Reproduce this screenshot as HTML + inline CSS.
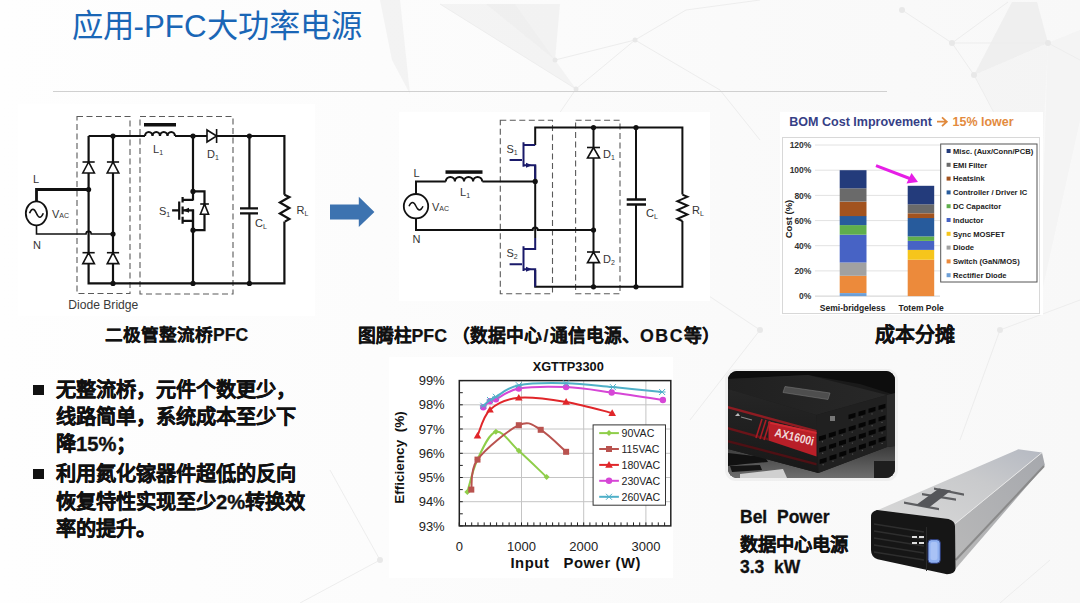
<!DOCTYPE html>
<html lang="zh-CN"><head><meta charset="utf-8">
<style>
html,body{margin:0;padding:0;}
body{width:1080px;height:603px;position:relative;overflow:hidden;background:linear-gradient(90deg,#fefefe 0%,#fcfcfc 35%,#f8f8f8 100%);font-family:"Liberation Sans",sans-serif;}
.abs{position:absolute;}
svg{position:absolute;left:0;top:0;}
.title{left:71.5px;top:0.5px;font-size:31.3px;color:#1a66b6;white-space:nowrap;letter-spacing:0px;}
.cap{font-weight:bold;font-size:17.6px;color:#111;white-space:nowrap;-webkit-text-stroke:0.2px #111;}
.bul{left:56px;top:376.7px;font-size:20.2px;font-weight:bold;color:#111;line-height:27.3px;width:400px;}
.ln{white-space:nowrap;height:27.3px;-webkit-text-stroke:0.35px #111;}
.bul .sq{position:absolute;left:-23px;width:11px;height:10px;background:#111;}
.bel{left:740px;top:505px;font-size:17px;font-weight:bold;color:#111;line-height:25px;white-space:nowrap;-webkit-text-stroke:0.3px #111;}
</style></head>
<body>
<!-- background -->
<svg id="bg" width="1080" height="603" viewBox="0 0 1080 603">
  <g fill="#ededed">
    <polygon points="1012,2 1037,2 1048,43 974,75" opacity="0.9"/>
    <polygon points="380,0 400,0 410,94 392,60" opacity="0.6"/>
    <polygon points="440,4 515,4 555,60 576,89" opacity="0.55"/>
    <polygon points="486,4 560,4 555,60" opacity="0.6"/>
    <polygon points="1048,43 1080,30 1080,120 1040,300" opacity="0.4"/>
    <polygon points="974,75 1048,43 1040,200" opacity="0.35"/>
  </g>
  <g stroke="#ededed" stroke-width="1" fill="none">
    <path d="M440,4 L576,89 L635,40 L686,10 M555,60 L635,40 M635,40 L720,90 M902,10 L952,43 L974,75 M952,43 L1048,43 M952,43 L1008,2 M974,75 L1040,200 M1048,43 L1080,60"/>
    <path d="M576,89 L500,200 M686,10 L760,0 M720,90 L760,140"/>
    <path d="M700,290 L760,330 L690,420 M1000,330 L1080,300 M1000,330 L960,440 M330,470 L380,560 L300,603 M1050,560 L1000,603"/>
  </g>
  <g fill="#e8e8e8">
    <circle cx="952" cy="43" r="3"/><circle cx="974" cy="75" r="3"/><circle cx="1048" cy="43" r="3"/>
    <circle cx="902" cy="10" r="3"/><circle cx="635" cy="40" r="2.5"/><circle cx="555" cy="60" r="2.5"/><circle cx="576" cy="89" r="2.5"/>
    <circle cx="760" cy="330" r="3"/><circle cx="1000" cy="330" r="3"/><circle cx="380" cy="560" r="3"/>
  </g>
</svg>

<div class="abs title">应用-PFC大功率电源</div>
<div class="abs" style="left:53px;top:91px;width:834px;height:1px;background:#d0d0d0;"></div>

<!-- circuit 1 -->
<svg width="1080" height="603" viewBox="0 0 1080 603">
  <rect x="18" y="104" width="297" height="212" fill="#fff"/>
  <g fill="none" stroke="#5a5a5a" stroke-width="1.1" stroke-dasharray="6,3.5">
    <rect x="77" y="116.5" width="53" height="177"/>
    <rect x="140" y="116.5" width="93" height="177.5"/>
  </g>
  <g fill="none" stroke="#111" stroke-width="2.2">
    <path d="M88.6,136 H145 M175,136 H207 M216.6,136 H284.4 V194.7 M284.4,221.6 V283.4 H88.6 V136"/>
    <path d="M113,136 V283.4"/>
    <path d="M193,136 V200.4 M193,209.8 V283.4"/>
    <path d="M249.4,136 V208.4 M249.4,213.4 V283.4"/>
    <path d="M240,208.4 H258 M240,213.4 H258"/>
    <path d="M284.4,194.7 l5,2.3 l-9.5,5.5 l9.5,5.5 l-9.5,5.5 l9.5,5.5 l-4.5,2.6"/>
    <path d="M145,136 a3.75,4 0 0 1 7.5,0 a3.75,4 0 0 1 7.5,0 a3.75,4 0 0 1 7.5,0 a3.75,4 0 0 1 7.5,0"/>
    <path d="M182.6,196.9 V202.4 M182.6,206.4 V214.3 M182.6,216.8 V223.8 M179.2,201.4 V219.8 M172.1,210.3 H179.2 M182.6,199.9 H193 M182.6,210.3 H193 V230 M182.6,220.8 H193"/>
    <path d="M193,191.4 H204.5 V230.2 H193"/>
  </g>
  <path d="M36.5,224 V234 H86 a2.6,2.6 0 0 1 5.2,0 H113" fill="none" stroke="#111" stroke-width="1.6"/>
  <rect x="144" y="123" width="32" height="3.5" fill="#111"/>
  <path d="M36.5,202 V189.5 H88.6" fill="none" stroke="#111" stroke-width="2.8"/>
  <ellipse cx="36.4" cy="213.3" rx="10.6" ry="12" fill="#fff" stroke="#111" stroke-width="1.8"/>
  <path d="M29.5,213.3 q3.4,-8 6.9,0 q3.5,8 6.9,0" fill="none" stroke="#111" stroke-width="1.6"/>
  <g fill="#fff" stroke="#111" stroke-width="1.6">
    <path d="M88.6,162 L82.8,173 H94.4 Z"/><path d="M82.5,162 H94.7"/>
    <path d="M113,162 L107.2,173 H118.8 Z"/><path d="M106.9,162 H119.1"/>
    <path d="M88.6,252.7 L82.8,263.6 H94.4 Z"/><path d="M82.5,252.7 H94.7"/>
    <path d="M113,252.7 L107.2,263.6 H118.8 Z"/><path d="M106.9,252.7 H119.1"/>
    <path d="M204.5,204 L200.4,214.3 H208.6 Z"/><path d="M200.2,204 H208.9"/>
    <path d="M216.6,136 L207,130 V142 Z"/><path d="M216.6,129 V143"/>
  </g>
  <path d="M183,210.3 l6,-2.5 v5 z" fill="#111"/>
  <g fill="#111">
    <circle cx="113" cy="136" r="2.6"/><circle cx="88.6" cy="189.5" r="2.6"/>
    <circle cx="113" cy="234" r="2.6"/><circle cx="113" cy="283.4" r="2.6"/>
    <circle cx="193" cy="136" r="2.6"/><circle cx="249.4" cy="136" r="2.6"/>
    <circle cx="193" cy="191.4" r="2.6"/><circle cx="193" cy="230.2" r="2.6"/>
    <circle cx="193" cy="283.4" r="2.6"/><circle cx="249.4" cy="283.4" r="2.6"/>
  </g>
  <g font-family="Liberation Sans" fill="#333" font-size="11">
    <text x="33" y="183">L</text>
    <text x="33" y="249">N</text>
    <text x="52" y="217.5">V<tspan font-size="7">AC</tspan></text>
    <text x="153" y="153">L<tspan font-size="7" dy="2">1</tspan></text>
    <text x="207" y="158">D<tspan font-size="7" dy="2">1</tspan></text>
    <text x="159" y="215">S<tspan font-size="7" dy="2">1</tspan></text>
    <text x="255" y="227">C<tspan font-size="7" dy="2">L</tspan></text>
    <text x="296.5" y="213.5">R<tspan font-size="7" dy="2">L</tspan></text>
    <text x="68.3" y="309" font-size="13" fill="#3a3a3a" textLength="70" lengthAdjust="spacingAndGlyphs">Diode Bridge</text>
  </g>
</svg>

<!-- arrow -->
<svg width="1080" height="603" viewBox="0 0 1080 603">
  <path d="M330,204.5 H358.8 V196.8 L374.4,212 L358.8,227 V219.5 H330 Z" fill="#3d73b0"/>
</svg>

<!-- circuit 2 -->
<svg width="1080" height="603" viewBox="0 0 1080 603">
  <rect x="399" y="112" width="311" height="189" fill="#fff"/>
  <g fill="none" stroke="#5a5a5a" stroke-width="1.1" stroke-dasharray="6,3.5">
    <rect x="500.3" y="120.3" width="52.2" height="173.5"/>
    <rect x="575.6" y="120.3" width="44.4" height="173.5"/>
  </g>
  <g fill="none" stroke="#111" stroke-width="2">
    <path d="M535.2,144.9 V127.6 H682.4 V194.6 M682.4,221 V286.8 H535.2 V270"/>
    <path d="M416,194 V181.4 H445.8 M482.4,181.4 H535.2 V165.2"/>
    <path d="M416,218.4 V230 H532.6 a2.6,2.6 0 0 1 5.2,0 H593.5"/>
    <path d="M535.2,181.4 V238"/>
    <path d="M593.5,127.6 V286.8"/>
    <path d="M636,127.6 V199.5 M636,204.5 V286.8"/>
    <path d="M682.4,194.6 l5,2.2 l-10,4.4 l10,4.4 l-10,4.4 l10,4.4 l-10,4.4 l5,2.2"/>
    <path d="M445.8,181.4 a4.55,4.5 0 0 1 9.1,0 a4.55,4.5 0 0 1 9.1,0 a4.55,4.5 0 0 1 9.1,0 a4.55,4.5 0 0 1 9.1,0"/>
  </g>
  <path d="M626.7,199.5 H646 M626.7,204.5 H646" stroke="#111" stroke-width="2.5"/>
  <rect x="445.5" y="170.3" width="37" height="3.5" fill="#111"/>
  <g fill="none" stroke="#1a1a6a" stroke-width="2">
    <path d="M535.2,144.9 H523.5 M523.5,142.2 V166.8 M509.6,160.1 H522 M523.5,165.2 H535.2 V181"/>
    <path d="M535.2,238 V249 H523.5 M523.5,246.3 V270.9 M509.6,264.2 H522 M523.5,269.3 H535.2 V286.8"/>
  </g>
  <path d="M532,165.2 l-6,-2.5 v5 z M532,269.3 l-6,-2.5 v5 z" fill="#1a1a6a"/>
  <circle cx="416" cy="206.2" r="12.2" fill="#fff" stroke="#111" stroke-width="1.8"/>
  <path d="M409,206.2 q3.5,-7.5 7,0 q3.5,7.5 7,0" fill="none" stroke="#111" stroke-width="1.5"/>
  <g fill="#fff" stroke="#111" stroke-width="1.6">
    <path d="M593.5,147.5 L587.5,158 H599.5 Z"/><path d="M587,147.5 H600"/>
    <path d="M593.5,252 L587.5,262.6 H599.5 Z"/><path d="M587,252 H600"/>
  </g>
  <g fill="#111">
    <circle cx="535.2" cy="181.4" r="2.6"/><circle cx="593.5" cy="127.6" r="2.6"/>
    <circle cx="593.5" cy="230" r="2.6"/><circle cx="593.5" cy="286.8" r="2.6"/>
    <circle cx="636" cy="127.6" r="2.6"/><circle cx="636" cy="286.8" r="2.6"/>
  </g>
  <g font-family="Liberation Sans" fill="#333" font-size="11">
    <text x="413.5" y="177">L</text>
    <text x="412.5" y="243">N</text>
    <text x="432" y="210.5">V<tspan font-size="7">AC</tspan></text>
    <text x="460" y="196">L<tspan font-size="7" dy="2">1</tspan></text>
    <text x="506.5" y="153">S<tspan font-size="7" dy="2">1</tspan></text>
    <text x="506.5" y="257">S<tspan font-size="7" dy="2">2</tspan></text>
    <text x="603" y="158">D<tspan font-size="7" dy="2">1</tspan></text>
    <text x="603" y="263">D<tspan font-size="7" dy="2">2</tspan></text>
    <text x="646" y="217">C<tspan font-size="7" dy="2">L</tspan></text>
    <text x="692" y="214">R<tspan font-size="7" dy="2">L</tspan></text>
  </g>
</svg>

<!-- efficiency chart -->
<svg width="1080" height="603" viewBox="0 0 1080 603">
  <rect x="389" y="357" width="284" height="221" fill="#fff"/>
  <text x="568.2" y="370.5" text-anchor="middle" font-family="Liberation Sans" font-weight="bold" font-size="12.8" fill="#111">XGTTP3300</text>
  <path d="M459.3,404.8 H670.8 M459.3,429.0 H670.8 M459.3,453.3 H670.8 M459.3,477.5 H670.8 M459.3,501.7 H670.8 M521.5,380.6 V525.9 M583.7,380.6 V525.9 M645.9,380.6 V525.9" stroke="#c4c4c4" stroke-width="1" fill="none"/>
  <path d="M459.3,380.6 h3.5 M459.3,392.7 h3.5 M459.3,404.8 h3.5 M459.3,416.9 h3.5 M459.3,429.0 h3.5 M459.3,441.2 h3.5 M459.3,453.3 h3.5 M459.3,465.4 h3.5 M459.3,477.5 h3.5 M459.3,489.6 h3.5 M459.3,501.7 h3.5 M459.3,513.8 h3.5 M459.3,525.9 h3.5 M459.3,525.9 v-3.5 M465.5,525.9 v-3.5 M471.7,525.9 v-3.5 M478.0,525.9 v-3.5 M484.2,525.9 v-3.5 M490.4,525.9 v-3.5 M496.6,525.9 v-3.5 M502.8,525.9 v-3.5 M509.1,525.9 v-3.5 M515.3,525.9 v-3.5 M521.5,525.9 v-3.5 M527.7,525.9 v-3.5 M533.9,525.9 v-3.5 M540.2,525.9 v-3.5 M546.4,525.9 v-3.5 M552.6,525.9 v-3.5 M558.8,525.9 v-3.5 M565.0,525.9 v-3.5 M571.3,525.9 v-3.5 M577.5,525.9 v-3.5 M583.7,525.9 v-3.5 M589.9,525.9 v-3.5 M596.1,525.9 v-3.5 M602.4,525.9 v-3.5 M608.6,525.9 v-3.5 M614.8,525.9 v-3.5 M621.0,525.9 v-3.5 M627.2,525.9 v-3.5 M633.5,525.9 v-3.5 M639.7,525.9 v-3.5 M645.9,525.9 v-3.5 M652.1,525.9 v-3.5 M658.3,525.9 v-3.5 M664.6,525.9 v-3.5" stroke="#222" stroke-width="1" fill="none"/>
  <rect x="459.3" y="380.6" width="211.5" height="145.3" fill="none" stroke="#222" stroke-width="1.5"/>
  <g font-family="Liberation Sans" font-size="13" fill="#222"><text x="444.7" y="385.2" text-anchor="end">99%</text><text x="444.7" y="409.4" text-anchor="end">98%</text><text x="444.7" y="433.6" text-anchor="end">97%</text><text x="444.7" y="457.9" text-anchor="end">96%</text><text x="444.7" y="482.1" text-anchor="end">95%</text><text x="444.7" y="506.3" text-anchor="end">94%</text><text x="444.7" y="530.5" text-anchor="end">93%</text><text x="459.3" y="551" text-anchor="middle">0</text><text x="521.5" y="551" text-anchor="middle">1000</text><text x="583.7" y="551" text-anchor="middle">2000</text><text x="645.9" y="551" text-anchor="middle">3000</text></g>
  <text x="575.4" y="568" text-anchor="middle" font-family="Liberation Sans" font-weight="bold" font-size="14.8" fill="#111" textLength="130" lengthAdjust="spacing">Input&#160;&#160; Power (W)</text>
  <text transform="translate(404,457.5) rotate(-90)" text-anchor="middle" font-family="Liberation Sans" font-weight="bold" font-size="13.5" fill="#111">Efficiency&#160; (%)</text>
  <rect x="593.1" y="424.9" width="72.4" height="80.3" fill="#fff" stroke="#333" stroke-width="1"/>
  <g font-family="Liberation Sans" font-size="10.6" fill="#222">
<path d="M467.3,492.0 C469.0,486.6 472.7,469.6 477.5,459.6 C482.2,449.5 489.0,433.2 495.9,431.7 C502.8,430.3 510.4,443.3 518.8,450.8 C527.3,458.4 541.9,472.6 546.6,477.0" fill="none" stroke="#8fce4a" stroke-width="2"/>
<path d="M467.3,489.0 l3,3 l-3,3 l-3,-3z" fill="#8fce4a"/>
<path d="M477.5,456.6 l3,3 l-3,3 l-3,-3z" fill="#8fce4a"/>
<path d="M495.9,428.7 l3,3 l-3,3 l-3,-3z" fill="#8fce4a"/>
<path d="M518.8,447.8 l3,3 l-3,3 l-3,-3z" fill="#8fce4a"/>
<path d="M546.6,474.0 l3,3 l-3,3 l-3,-3z" fill="#8fce4a"/>
<path d="M471.3,489.6 C472.3,484.6 469.5,470.3 477.5,459.6 C485.4,448.8 508.3,430.1 518.8,425.2 C529.4,420.2 532.8,425.3 540.7,429.8 C548.6,434.2 561.9,448.1 566.1,451.8" fill="none" stroke="#b9534f" stroke-width="2"/>
<rect x="468.3" y="486.6" width="6" height="6" fill="#b9534f"/>
<rect x="474.5" y="456.6" width="6" height="6" fill="#b9534f"/>
<rect x="515.8" y="422.2" width="6" height="6" fill="#b9534f"/>
<rect x="537.7" y="426.8" width="6" height="6" fill="#b9534f"/>
<rect x="563.1" y="448.8" width="6" height="6" fill="#b9534f"/>
<path d="M477.5,435.8 C479.6,431.5 483.1,416.0 490.0,409.7 C496.9,403.3 506.1,399.1 518.8,397.8 C531.5,396.5 550.5,399.4 566.1,401.9 C581.7,404.5 604.5,411.2 612.2,413.1" fill="none" stroke="#e0262a" stroke-width="2"/>
<path d="M477.5,432.0 l3.8,6.6 h-7.6z" fill="#e0262a"/>
<path d="M490.0,405.9 l3.8,6.6 h-7.6z" fill="#e0262a"/>
<path d="M518.8,394.0 l3.8,6.6 h-7.6z" fill="#e0262a"/>
<path d="M566.1,398.1 l3.8,6.6 h-7.6z" fill="#e0262a"/>
<path d="M612.2,409.3 l3.8,6.6 h-7.6z" fill="#e0262a"/>
<path d="M483.3,407.2 C484.4,406.2 487.9,402.5 490.0,401.2 C492.1,399.9 491.1,401.3 495.9,399.2 C500.7,397.2 507.1,390.6 518.8,388.6 C530.5,386.6 550.6,386.5 566.1,387.1 C581.6,387.8 595.6,390.3 611.7,392.5 C627.8,394.6 654.3,398.7 662.9,400.0" fill="none" stroke="#d646d6" stroke-width="2"/>
<circle cx="483.3" cy="407.2" r="3.2" fill="#d646d6"/>
<circle cx="490.0" cy="401.2" r="3.2" fill="#d646d6"/>
<circle cx="495.9" cy="399.2" r="3.2" fill="#d646d6"/>
<circle cx="518.8" cy="388.6" r="3.2" fill="#d646d6"/>
<circle cx="566.1" cy="387.1" r="3.2" fill="#d646d6"/>
<circle cx="611.7" cy="392.5" r="3.2" fill="#d646d6"/>
<circle cx="662.9" cy="400.0" r="3.2" fill="#d646d6"/>
<path d="M483.3,405.8 C484.4,404.8 487.9,401.5 490.0,400.0 C492.1,398.5 491.1,399.3 495.9,396.8 C500.7,394.4 507.1,387.5 518.8,385.2 C530.5,382.9 550.4,382.9 566.1,383.3 C581.8,383.6 596.9,385.7 612.9,387.1 C628.9,388.6 653.9,391.2 662.1,392.0" fill="none" stroke="#4fb0c8" stroke-width="2"/>
<path d="M480.3,402.8 l6,6 M486.3,402.8 l-6,6 M479.8,405.8 h7" stroke="#4fb0c8" stroke-width="1"/>
<path d="M487.0,397.0 l6,6 M493.0,397.0 l-6,6 M486.5,400.0 h7" stroke="#4fb0c8" stroke-width="1"/>
<path d="M492.9,393.8 l6,6 M498.9,393.8 l-6,6 M492.4,396.8 h7" stroke="#4fb0c8" stroke-width="1"/>
<path d="M515.8,382.2 l6,6 M521.8,382.2 l-6,6 M515.3,385.2 h7" stroke="#4fb0c8" stroke-width="1"/>
<path d="M563.1,380.3 l6,6 M569.1,380.3 l-6,6 M562.6,383.3 h7" stroke="#4fb0c8" stroke-width="1"/>
<path d="M609.9,384.1 l6,6 M615.9,384.1 l-6,6 M609.4,387.1 h7" stroke="#4fb0c8" stroke-width="1"/>
<path d="M659.1,389.0 l6,6 M665.1,389.0 l-6,6 M658.6,392.0 h7" stroke="#4fb0c8" stroke-width="1"/>
<path d="M599.2,433.1 H618.9" stroke="#8fce4a" stroke-width="2"/>
<path d="M609.0,430.1 l3,3 l-3,3 l-3,-3z" fill="#8fce4a"/>
<text x="621.5" y="437.1">90VAC</text>
<path d="M599.2,449 H618.9" stroke="#b9534f" stroke-width="2"/>
<rect x="606.0" y="446.0" width="6" height="6" fill="#b9534f"/>
<text x="621.5" y="453.0">115VAC</text>
<path d="M599.2,464.9 H618.9" stroke="#e0262a" stroke-width="2"/>
<path d="M609.0,461.1 l3.8,6.6 h-7.6z" fill="#e0262a"/>
<text x="621.5" y="468.9">180VAC</text>
<path d="M599.2,480.8 H618.9" stroke="#d646d6" stroke-width="2"/>
<circle cx="609.0" cy="480.8" r="3.2" fill="#d646d6"/>
<text x="621.5" y="484.8">230VAC</text>
<path d="M599.2,496.8 H618.9" stroke="#4fb0c8" stroke-width="2"/>
<path d="M606.0,493.8 l6,6 M612.0,493.8 l-6,6 M605.5,496.8 h7" stroke="#4fb0c8" stroke-width="1"/>
<text x="621.5" y="500.8">260VAC</text>
  </g>
</svg>
<!-- BOM chart -->
<svg width="1080" height="603" viewBox="0 0 1080 603">
  <rect x="780" y="112" width="263" height="203" fill="#fff"/>
  <rect x="782.5" y="137.5" width="257" height="176" fill="none" stroke="#d8d8d8" stroke-width="1"/>
  <text x="789.3" y="125.6" font-family="Liberation Sans" font-weight="bold" font-size="12.4" fill="#363f86" textLength="142.6" lengthAdjust="spacingAndGlyphs">BOM Cost Improvement</text>
  <path d="M937,121.7 H946.5 M942,117.3 L946.8,121.7 L942,126.1" fill="none" stroke="#e0893c" stroke-width="1.8"/>
  <text x="952.6" y="125.6" font-family="Liberation Sans" font-weight="bold" font-size="12.4" fill="#e38b3e" textLength="61" lengthAdjust="spacingAndGlyphs">15% lower</text>
  <path d="M815,270.9 H940 M815,245.7 H940 M815,220.6 H940 M815,195.4 H940 M815,170.2 H940 M815,145.0 H940" stroke="#e2e2e2" stroke-width="1"/>
  <path d="M815,296.1 H940" stroke="#cfcfcf" stroke-width="1"/>
  <rect x="839.7" y="293.1" width="26.8" height="3.0" fill="#6d9fd6"/><rect x="839.7" y="275.8" width="26.8" height="17.2" fill="#ec8a3b"/><rect x="839.7" y="262.5" width="26.8" height="13.3" fill="#a1a1a1"/><rect x="839.7" y="234.7" width="26.8" height="27.8" fill="#4763c5"/><rect x="839.7" y="225.1" width="26.8" height="9.6" fill="#5fae4c"/><rect x="839.7" y="216.0" width="26.8" height="9.1" fill="#275b9c"/><rect x="839.7" y="201.7" width="26.8" height="14.4" fill="#a2531f"/><rect x="839.7" y="188.3" width="26.8" height="13.3" fill="#6a6a6a"/><rect x="839.7" y="170.2" width="26.8" height="18.1" fill="#233b7b"/><rect x="907.7" y="259.7" width="26.5" height="36.4" fill="#ec8a3b"/><rect x="907.7" y="249.9" width="26.5" height="9.8" fill="#f6c51b"/><rect x="907.7" y="241.0" width="26.5" height="8.9" fill="#4763c5"/><rect x="907.7" y="236.4" width="26.5" height="4.5" fill="#5fae4c"/><rect x="907.7" y="218.0" width="26.5" height="18.4" fill="#275b9c"/><rect x="907.7" y="213.3" width="26.5" height="4.8" fill="#a2531f"/><rect x="907.7" y="204.3" width="26.5" height="8.9" fill="#6a6a6a"/><rect x="907.7" y="185.8" width="26.5" height="18.5" fill="#233b7b"/>
  <g font-family="Liberation Sans" font-weight="bold" font-size="8.5" fill="#333"><text x="811.4" y="299.3" text-anchor="end">0%</text><text x="811.4" y="274.1" text-anchor="end">20%</text><text x="811.4" y="248.9" text-anchor="end">40%</text><text x="811.4" y="223.8" text-anchor="end">60%</text><text x="811.4" y="198.6" text-anchor="end">80%</text><text x="811.4" y="173.4" text-anchor="end">100%</text><text x="811.4" y="148.2" text-anchor="end">120%</text></g>
  <text transform="translate(791.5,219) rotate(-90)" text-anchor="middle" font-family="Liberation Sans" font-weight="bold" font-size="9.5" fill="#222">Cost (%)</text>
  <g font-family="Liberation Sans" font-weight="bold" font-size="8.5" fill="#222">
    <text x="852.7" y="310.5" text-anchor="middle">Semi-bridgeless</text>
    <text x="921.2" y="310.5" text-anchor="middle">Totem Pole</text>
  </g>
  <path d="M876,165.6 L911,179" stroke="#e61ee6" stroke-width="3"/>
  <path d="M918,182 L906.5,183.5 L911.5,173 Z" fill="#e61ee6"/>
  <rect x="940.7" y="144" width="96.3" height="138" fill="#fff" stroke="#555" stroke-width="1"/>
  <g font-family="Liberation Sans" font-weight="bold" font-size="7.6" fill="#222"><rect x="946.6" y="149.0" width="4" height="4" fill="#233b7b"/><text x="953" y="153.8">Misc. (Aux/Conn/PCB)</text><rect x="946.6" y="162.8" width="4" height="4" fill="#6a6a6a"/><text x="953" y="167.6">EMI Filter</text><rect x="946.6" y="176.6" width="4" height="4" fill="#a2531f"/><text x="953" y="181.4">Heatsink</text><rect x="946.6" y="190.4" width="4" height="4" fill="#275b9c"/><text x="953" y="195.2">Controller / Driver IC</text><rect x="946.6" y="204.2" width="4" height="4" fill="#5fae4c"/><text x="953" y="209.0">DC Capacitor</text><rect x="946.6" y="218.0" width="4" height="4" fill="#4763c5"/><text x="953" y="222.8">Inductor</text><rect x="946.6" y="231.8" width="4" height="4" fill="#f6c51b"/><text x="953" y="236.6">Sync MOSFET</text><rect x="946.6" y="245.6" width="4" height="4" fill="#a1a1a1"/><text x="953" y="250.4">Diode</text><rect x="946.6" y="259.4" width="4" height="4" fill="#ec8a3b"/><text x="953" y="264.2">Switch (GaN/MOS)</text><rect x="946.6" y="273.2" width="4" height="4" fill="#6d9fd6"/><text x="953" y="278.0">Rectifier Diode</text></g>
</svg>
<div class="abs cap" style="left:105px;top:321px;">二极管整流桥PFC</div>
<div class="abs cap" style="left:357.5px;top:321px;font-size:17.8px;">图腾柱PFC （数据中心<span style="margin:0 1.5px">/</span>通信电源、<span style="letter-spacing:1.5px">OBC</span>等）</div>
<div class="abs cap" style="left:875px;top:319px;font-size:20px;">成本分摊</div>

<div class="abs bul">
  <div class="sq" style="top:7.9px;"></div>
  <div class="sq" style="top:91.9px;"></div>
  <div class="ln">无整流桥，元件个数更少，</div>
  <div class="ln">线路简单，系统成本至少下</div>
  <div class="ln">降15%；</div>
  <div class="ln" style="margin-top:2.7px">利用氮化镓器件超低的反向</div>
  <div class="ln">恢复特性实现至少2%转换效</div>
  <div class="ln">率的提升。</div>
</div>


<!-- corsair photo -->
<svg width="1080" height="603" viewBox="0 0 1080 603">
  <defs>
    <clipPath id="cp1"><rect x="728" y="371" width="167" height="107" rx="9" ry="9"/></clipPath>
    <linearGradient id="floorg" x1="0" y1="0" x2="0" y2="1"><stop offset="0" stop-color="#3a3a3a"/><stop offset="1" stop-color="#6e6e6e"/></linearGradient>
    <linearGradient id="topg" x1="0" y1="0" x2="1" y2="0"><stop offset="0" stop-color="#202020"/><stop offset="1" stop-color="#282828"/></linearGradient>
    <linearGradient id="sideg" x1="0" y1="0" x2="0" y2="1"><stop offset="0" stop-color="#262626"/><stop offset="1" stop-color="#181818"/></linearGradient>
  </defs>
  <rect x="725" y="369" width="173" height="112" rx="11" fill="#e6e6e6" opacity="0.5"/>
  <g clip-path="url(#cp1)">
    <rect x="728" y="371" width="167" height="107" fill="#1a1a1a"/>
    <polygon points="728,371 895,371 895,395 860,384 808,375 728,379" fill="#0d0d0d"/>
    <polygon points="728,449 818,473 887,447 895,446 895,478 728,478" fill="url(#floorg)"/>
    <polygon points="728,453 765,457 768,462 745,464 728,466" fill="#111"/>
    <polygon points="730,466 760,465 762,470 732,472" fill="#151515"/>
    <polygon points="740,474 783,469 787,478 740,478" fill="#d0d0d0"/>
    <polygon points="728,379 808,375 887,395 816.5,415 728,389" fill="url(#topg)"/>
    <polygon points="785,386.5 830,393 828,399.5 783,392.5" fill="#4e4e4e" stroke="#777" stroke-width="0.6"/>
    <polygon points="728,389 816.5,415 818.6,473 728,449" fill="url(#sideg)"/>
    <polygon points="728,406 816.5,430 816.5,432.5 728,408.5" fill="#8e1c22"/>
    <polygon points="728,427 768,438 768,440.5 728,429.5" fill="#6a1419"/>
    <polygon points="728,440 816.5,463 816.5,465.5 728,442.5" fill="#4e1014"/>
    <polygon points="768.5,421.5 816.5,432 816.5,456.5 768.5,440.5" fill="#b81f28"/>
    <polygon points="768.5,421.5 816.5,432 816.5,434 768.5,423.5" fill="#d02a32"/>
    <path d="M762,419 l-6,19 M766,420 l-6,19 M770,421 l-6,19" stroke="#a81c24" stroke-width="1.6"/>
    <text transform="translate(774,436) rotate(14)" font-family="Liberation Sans" font-size="12" font-weight="bold" fill="#f0dada" textLength="40" lengthAdjust="spacingAndGlyphs">AX1600i</text>
    <path d="M735,416 l3,-3 l2,3 z" fill="#bbb"/><path d="M741,417 l11,3" stroke="#8a8a8a" stroke-width="1.1"/>
    <polygon points="816.5,415 887,395 887,447 818.6,473" fill="#202020"/>
    <polygon points="848.5,414.8 855.5,412.8 855.5,417.2 848.5,419.2" fill="#050505"/><circle cx="852.0" cy="420.0" r="0.7" fill="#555"/><polygon points="858.5,411.8 865.5,409.8 865.5,414.2 858.5,416.2" fill="#050505"/><circle cx="862.0" cy="417.0" r="0.7" fill="#555"/><polygon points="868.5,408.7 875.5,406.7 875.5,411.1 868.5,413.1" fill="#050505"/><circle cx="872.0" cy="413.9" r="0.7" fill="#555"/><polygon points="878.5,405.7 885.5,403.7 885.5,408.1 878.5,410.1" fill="#050505"/><circle cx="882.0" cy="410.9" r="0.7" fill="#555"/><polygon points="818.9,436.6 825.9,434.6 825.9,439.0 818.9,441.0" fill="#050505"/><circle cx="822.4" cy="441.8" r="0.7" fill="#555"/><polygon points="828.8,433.3 835.8,431.3 835.8,435.7 828.8,437.7" fill="#050505"/><circle cx="832.3" cy="438.5" r="0.7" fill="#555"/><polygon points="838.7,430.1 845.7,428.1 845.7,432.5 838.7,434.5" fill="#050505"/><circle cx="842.2" cy="435.3" r="0.7" fill="#555"/><polygon points="848.7,426.9 855.7,424.9 855.7,429.3 848.7,431.3" fill="#050505"/><circle cx="852.2" cy="432.1" r="0.7" fill="#555"/><polygon points="858.6,423.7 865.6,421.7 865.6,426.1 858.6,428.1" fill="#050505"/><circle cx="862.1" cy="428.9" r="0.7" fill="#555"/><polygon points="868.6,420.5 875.6,418.5 875.6,422.9 868.6,424.9" fill="#050505"/><circle cx="872.1" cy="425.7" r="0.7" fill="#555"/><polygon points="878.5,417.2 885.5,415.2 885.5,419.6 878.5,421.6" fill="#050505"/><circle cx="882.0" cy="422.4" r="0.7" fill="#555"/><polygon points="819.2,448.1 826.2,446.1 826.2,450.5 819.2,452.5" fill="#050505"/><circle cx="822.7" cy="453.3" r="0.7" fill="#555"/><polygon points="829.1,444.7 836.1,442.7 836.1,447.1 829.1,449.1" fill="#050505"/><circle cx="832.6" cy="449.9" r="0.7" fill="#555"/><polygon points="839.0,441.3 846.0,439.3 846.0,443.7 839.0,445.7" fill="#050505"/><circle cx="842.5" cy="446.5" r="0.7" fill="#555"/><polygon points="848.9,437.9 855.9,435.9 855.9,440.3 848.9,442.3" fill="#050505"/><circle cx="852.4" cy="443.1" r="0.7" fill="#555"/><polygon points="858.8,434.5 865.8,432.5 865.8,436.9 858.8,438.9" fill="#050505"/><circle cx="862.3" cy="439.7" r="0.7" fill="#555"/><polygon points="868.7,431.1 875.7,429.1 875.7,433.5 868.7,435.5" fill="#050505"/><circle cx="872.2" cy="436.3" r="0.7" fill="#555"/><polygon points="878.6,427.7 885.6,425.7 885.6,430.1 878.6,432.1" fill="#050505"/><circle cx="882.1" cy="432.9" r="0.7" fill="#555"/><polygon points="819.6,459.6 826.6,457.6 826.6,462.0 819.6,464.0" fill="#050505"/><circle cx="823.1" cy="464.8" r="0.7" fill="#555"/><polygon points="829.5,456.0 836.5,454.0 836.5,458.4 829.5,460.4" fill="#050505"/><circle cx="833.0" cy="461.2" r="0.7" fill="#555"/><polygon points="839.3,452.5 846.3,450.5 846.3,454.9 839.3,456.9" fill="#050505"/><circle cx="842.8" cy="457.7" r="0.7" fill="#555"/><polygon points="849.1,448.9 856.1,446.9 856.1,451.3 849.1,453.3" fill="#050505"/><circle cx="852.6" cy="454.1" r="0.7" fill="#555"/><polygon points="858.9,445.3 865.9,443.3 865.9,447.7 858.9,449.7" fill="#050505"/><circle cx="862.4" cy="450.5" r="0.7" fill="#555"/><polygon points="868.8,441.8 875.8,439.8 875.8,444.2 868.8,446.2" fill="#050505"/><circle cx="872.3" cy="447.0" r="0.7" fill="#555"/><polygon points="878.6,438.2 885.6,436.2 885.6,440.6 878.6,442.6" fill="#050505"/><circle cx="882.1" cy="443.4" r="0.7" fill="#555"/>
    <rect x="830" y="416" width="5" height="5" fill="#777"/>
    <polygon points="887,395 895,393 895,446 887,447" fill="#2a2a2a"/>
    <rect x="874" y="461" width="21" height="17" fill="#1e1e1e"/>
  </g>
</svg>
<!-- bel psu -->
<svg width="1080" height="603" viewBox="0 0 1080 603">
  <defs>
    <linearGradient id="topb" x1="0" y1="1" x2="1" y2="0"><stop offset="0" stop-color="#d8d8d8"/><stop offset="0.6" stop-color="#c9cacc"/><stop offset="1" stop-color="#b5b9c2"/></linearGradient>
    <linearGradient id="sideb" x1="0" y1="1" x2="1" y2="0"><stop offset="0" stop-color="#b9b9b9"/><stop offset="1" stop-color="#a6a8ad"/></linearGradient>
  </defs>
  <polygon points="954.8,524 1042,452.6 1044.9,465.2 955.6,568.8" fill="url(#sideb)"/>
  <path d="M955.6,560 L1044,466" stroke="#8a8a8a" stroke-width="2"/>
  <polygon points="876.8,510.5 1018.4,449.3 1042,452.6 954.8,524" fill="url(#topb)"/>
  <path d="M954.8,524 L1042,452.6" stroke="#e6e6e6" stroke-width="1"/>
  <g fill="#5e5f62">
    <polygon points="904,501.5 939,508 939,510.3 904,503.8"/>
    <polygon points="934,487.5 964,493.5 964,495.8 934,489.8"/>
    <polygon points="922,493 956,498.5 956,500.8 922,495.3"/>
    <polygon points="916,505 929,507.5 951,490.5 939,488.5" fill="#55565a"/>
  </g>
  <path d="M876,512 L949,521.5" stroke="#3a3a3a" stroke-width="3"/>
  <path d="M871,518 Q870,512 877,510 L948.5,519 Q955,521 955,526 L955.6,568.8 Q955,574 947,574.3 L877.6,559.3 Q871,557 871,550 Z" fill="#161616"/>
  <path d="M874,524 L924,532 M874,531 L924,539 M874,538 L924,546 M874,545 L924,553 M874,552 L924,560" stroke="#2e2e2e" stroke-width="1.6"/>
  <path d="M926.5,527 V571" stroke="#2a2a2a" stroke-width="1"/>
  <rect x="928" y="539.6" width="12.3" height="23.7" rx="3.5" fill="#8fb0f0" stroke="#2a3a7a" stroke-width="1"/><rect x="930.5" y="542" width="7" height="18" rx="2" fill="#a9c2f5"/>
  <g fill="#ddd"><rect x="912" y="536" width="5" height="2"/><rect x="919" y="536" width="5" height="2"/><rect x="912" y="542" width="5" height="2"/><rect x="919" y="542" width="5" height="2"/></g>
</svg>
<div class="abs bel"><div style="height:25px;font-size:17.5px;">Bel&nbsp; Power</div><div style="height:25px;font-size:18.3px;position:relative;top:1.5px;">数据中心电源</div><div style="height:25px;font-size:17.5px;">3.3&nbsp; kW</div></div>

</body></html>
